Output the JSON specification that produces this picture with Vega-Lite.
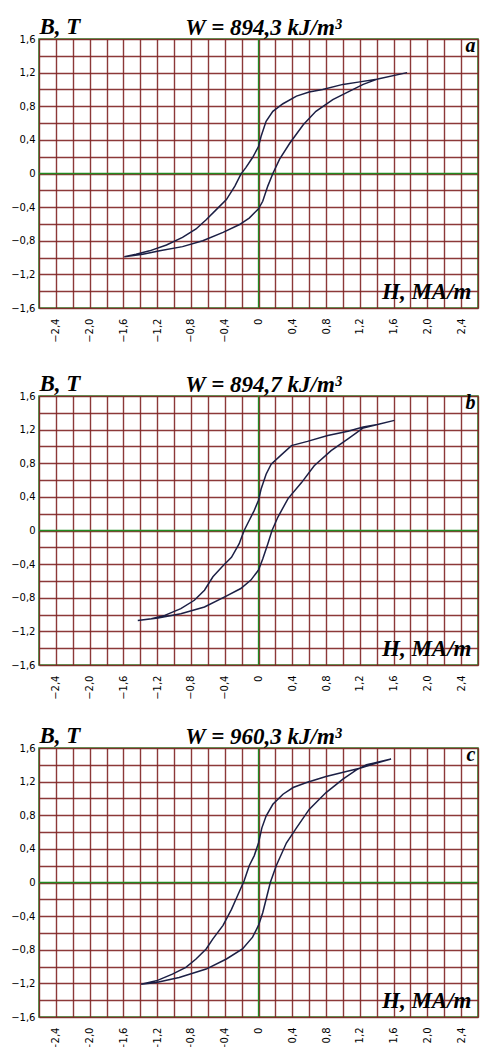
{
  "$schema": "https://vega.github.io/schema/vega-lite/v6.json",
  "padding": {"left": 9, "top": 14, "right": 0, "bottom": 0},
  "background": "white",
  "datasets": {
    "a": [
      {"i":0,"H":1.76,"B":1.20},{"i":1,"H":1.40,"B":1.12},{"i":2,"H":1.20,"B":1.09},{"i":3,"H":1.00,"B":1.06},
      {"i":4,"H":0.76,"B":1.00},{"i":5,"H":0.60,"B":0.97},{"i":6,"H":0.45,"B":0.92},{"i":7,"H":0.29,"B":0.83},
      {"i":8,"H":0.17,"B":0.74},{"i":9,"H":0.09,"B":0.62},{"i":10,"H":0.03,"B":0.44},{"i":11,"H":0.00,"B":0.32},
      {"i":12,"H":-0.07,"B":0.19},{"i":13,"H":-0.15,"B":0.07},{"i":14,"H":-0.21,"B":-0.01},{"i":15,"H":-0.28,"B":-0.15},
      {"i":16,"H":-0.38,"B":-0.31},{"i":17,"H":-0.50,"B":-0.43},{"i":18,"H":-0.62,"B":-0.55},{"i":19,"H":-0.74,"B":-0.66},
      {"i":20,"H":-0.90,"B":-0.76},{"i":21,"H":-1.09,"B":-0.85},{"i":22,"H":-1.29,"B":-0.92},{"i":23,"H":-1.45,"B":-0.96},
      {"i":24,"H":-1.59,"B":-0.99},{"i":25,"H":-1.37,"B":-0.96},{"i":26,"H":-1.17,"B":-0.92},{"i":27,"H":-0.90,"B":-0.87},
      {"i":28,"H":-0.66,"B":-0.80},{"i":29,"H":-0.42,"B":-0.70},{"i":30,"H":-0.23,"B":-0.61},{"i":31,"H":-0.11,"B":-0.53},
      {"i":32,"H":0.00,"B":-0.42},{"i":33,"H":0.05,"B":-0.33},{"i":34,"H":0.11,"B":-0.15},{"i":35,"H":0.17,"B":0.00},
      {"i":36,"H":0.25,"B":0.17},{"i":37,"H":0.37,"B":0.36},{"i":38,"H":0.53,"B":0.58},{"i":39,"H":0.68,"B":0.74},
      {"i":40,"H":0.88,"B":0.88},{"i":41,"H":1.08,"B":0.98},{"i":42,"H":1.24,"B":1.06},{"i":43,"H":1.40,"B":1.12},
      {"i":44,"H":1.76,"B":1.20}
    ],
    "b": [
      {"i":0,"H":1.61,"B":1.31},{"i":1,"H":1.41,"B":1.26},{"i":2,"H":1.24,"B":1.23},{"i":3,"H":1.06,"B":1.18},
      {"i":4,"H":0.82,"B":1.13},{"i":5,"H":0.58,"B":1.06},{"i":6,"H":0.39,"B":1.01},{"i":7,"H":0.27,"B":0.90},
      {"i":8,"H":0.15,"B":0.79},{"i":9,"H":0.09,"B":0.67},{"i":10,"H":0.03,"B":0.49},{"i":11,"H":0.00,"B":0.36},
      {"i":12,"H":-0.05,"B":0.24},{"i":13,"H":-0.13,"B":0.08},{"i":14,"H":-0.17,"B":0.00},{"i":15,"H":-0.23,"B":-0.16},
      {"i":16,"H":-0.32,"B":-0.32},{"i":17,"H":-0.42,"B":-0.42},{"i":18,"H":-0.54,"B":-0.55},{"i":19,"H":-0.64,"B":-0.71},
      {"i":20,"H":-0.76,"B":-0.83},{"i":21,"H":-0.92,"B":-0.93},{"i":22,"H":-1.11,"B":-1.01},{"i":23,"H":-1.27,"B":-1.05},
      {"i":24,"H":-1.43,"B":-1.07},{"i":25,"H":-1.19,"B":-1.04},{"i":26,"H":-0.92,"B":-0.99},{"i":27,"H":-0.64,"B":-0.91},
      {"i":28,"H":-0.40,"B":-0.79},{"i":29,"H":-0.21,"B":-0.69},{"i":30,"H":-0.09,"B":-0.59},{"i":31,"H":0.00,"B":-0.47},
      {"i":32,"H":0.05,"B":-0.34},{"i":33,"H":0.11,"B":-0.16},{"i":34,"H":0.16,"B":0.00},{"i":35,"H":0.23,"B":0.16},
      {"i":36,"H":0.35,"B":0.38},{"i":37,"H":0.51,"B":0.57},{"i":38,"H":0.66,"B":0.77},{"i":39,"H":0.86,"B":0.95},
      {"i":40,"H":1.06,"B":1.09},{"i":41,"H":1.24,"B":1.22},{"i":42,"H":1.41,"B":1.26},{"i":43,"H":1.61,"B":1.31}
    ],
    "c": [
      {"i":0,"H":1.57,"B":1.47},{"i":1,"H":1.40,"B":1.42},{"i":2,"H":1.20,"B":1.36},{"i":3,"H":1.04,"B":1.32},
      {"i":4,"H":0.80,"B":1.26},{"i":5,"H":0.57,"B":1.19},{"i":6,"H":0.41,"B":1.13},{"i":7,"H":0.29,"B":1.05},
      {"i":8,"H":0.17,"B":0.93},{"i":9,"H":0.09,"B":0.79},{"i":10,"H":0.04,"B":0.65},{"i":11,"H":0.00,"B":0.47},
      {"i":12,"H":-0.05,"B":0.32},{"i":13,"H":-0.11,"B":0.20},{"i":14,"H":-0.17,"B":0.02},{"i":15,"H":-0.25,"B":-0.16},
      {"i":16,"H":-0.32,"B":-0.32},{"i":17,"H":-0.42,"B":-0.51},{"i":18,"H":-0.54,"B":-0.67},{"i":19,"H":-0.62,"B":-0.79},
      {"i":20,"H":-0.74,"B":-0.91},{"i":21,"H":-0.86,"B":-1.01},{"i":22,"H":-1.02,"B":-1.09},{"i":23,"H":-1.21,"B":-1.17},
      {"i":24,"H":-1.39,"B":-1.21},{"i":25,"H":-1.21,"B":-1.19},{"i":26,"H":-0.94,"B":-1.13},{"i":27,"H":-0.62,"B":-1.03},
      {"i":28,"H":-0.38,"B":-0.91},{"i":29,"H":-0.19,"B":-0.79},{"i":30,"H":-0.07,"B":-0.65},{"i":31,"H":0.00,"B":-0.51},
      {"i":32,"H":0.05,"B":-0.36},{"i":33,"H":0.10,"B":-0.16},{"i":34,"H":0.14,"B":0.00},{"i":35,"H":0.21,"B":0.20},
      {"i":36,"H":0.33,"B":0.47},{"i":37,"H":0.45,"B":0.65},{"i":38,"H":0.60,"B":0.87},{"i":39,"H":0.80,"B":1.07},
      {"i":40,"H":1.00,"B":1.23},{"i":41,"H":1.16,"B":1.34},{"i":42,"H":1.28,"B":1.40},{"i":43,"H":1.57,"B":1.47}
    ]
  },
  "config": {
    "view": {"stroke": "#2d8a2d", "strokeWidth": 1.6},
    "axis": {
      "grid": true, "gridColor": "#7f2323", "gridWidth": 1.4, "gridOpacity": 0.9,
      "domain": false, "ticks": false, "tickSize": 0, "tickCount": 100,
      "labelFont": "DejaVu Sans", "labelFontSize": 10, "labelColor": "#000",
      "labelFlush": false, "labelOverlap": false,
      "titleFont": "Liberation Serif", "titleFontSize": 23, "titleFontStyle": "italic",
      "titleFontWeight": "bold", "titleColor": "#000"
    },
    "axisX": {"labelAngle": 270, "labelPadding": 10, "titleX": 432, "titleY": -10, "titleAlign": "right", "titleBaseline": "alphabetic"},
    "axisY": {"labelPadding": 4, "titleAngle": 0, "titleX": 0, "titleY": -6, "titleAlign": "left", "titleBaseline": "alphabetic"},
    "title": {"font": "Liberation Serif", "fontSize": 23, "fontStyle": "italic", "fontWeight": "bold", "color": "#000", "anchor": "middle", "offset": 4, "dy": 29, "dx": 5}
  },
  "spacing": 88,
  "bounds": "flush",
  "vconcat": [
    {
      "width": 439, "height": 269,
      "title": {"text": "W = 894,3 kJ/m³"},
      "layer": [
        {"data": {"values": [{}]}, "mark": {"type": "rule", "color": "#228b22", "strokeWidth": 1.3},
         "encoding": {"x": {"datum": 0, "type": "quantitative", "scale": {"domain": [-2.6, 2.6], "nice": false, "zero": false}, "title": "H, MA/m",
           "axis": {"tickCount": 100, "values": [-2.6,-2.4,-2.2,-2,-1.8,-1.6,-1.4,-1.2,-1,-0.8,-0.6,-0.4,-0.2,0,0.2,0.4,0.6,0.8,1,1.2,1.4,1.6,1.8,2,2.2,2.4,2.6],
             "labelExpr": "abs(round(datum.value*10)) % 4 == 0 && abs(datum.value) < 2.5 ? (datum.value == 0 ? '0' : replace(format(datum.value, '.1f'), '.', ',')) : ''"}}}},
        {"data": {"values": [{}]}, "mark": {"type": "rule", "color": "#228b22", "strokeWidth": 1.3},
         "encoding": {"y": {"datum": 0, "type": "quantitative", "scale": {"domain": [-1.6, 1.6], "nice": false, "zero": false}, "title": "B, T",
           "axis": {"tickCount": 100, "values": [-1.6,-1.4,-1.2,-1,-0.8,-0.6,-0.4,-0.2,0,0.2,0.4,0.6,0.8,1,1.2,1.4,1.6],
             "labelExpr": "abs(round(datum.value*10)) % 4 == 0 ? (datum.value == 0 ? '0' : replace(format(datum.value, '.1f'), '.', ',')) : ''"}}}},
        {"data": {"name": "a"}, "mark": {"type": "line", "color": "#1b1f45", "strokeWidth": 1.5},
         "encoding": {"x": {"field": "H", "type": "quantitative", "title": "H, MA/m"}, "y": {"field": "B", "type": "quantitative", "title": "B, T"}, "order": {"field": "i"}}},
        {"data": {"values": [{}]}, "mark": {"type": "text", "text": "a", "align": "right", "baseline": "alphabetic", "font": "Liberation Serif", "fontSize": 20, "fontStyle": "italic", "fontWeight": "bold", "color": "#000"},
         "encoding": {"x": {"datum": 2.57}, "y": {"datum": 1.45}}}
      ]
    },
    {
      "spacing": 83,
      "bounds": "flush",
      "vconcat": [
        {
          "width": 439, "height": 269,
          "title": {"text": "W = 894,7 kJ/m³"},
          "layer": [
            {"data": {"values": [{}]}, "mark": {"type": "rule", "color": "#228b22", "strokeWidth": 1.3},
             "encoding": {"x": {"datum": 0, "type": "quantitative", "scale": {"domain": [-2.6, 2.6], "nice": false, "zero": false}, "title": "H, MA/m",
               "axis": {"tickCount": 100, "values": [-2.6,-2.4,-2.2,-2,-1.8,-1.6,-1.4,-1.2,-1,-0.8,-0.6,-0.4,-0.2,0,0.2,0.4,0.6,0.8,1,1.2,1.4,1.6,1.8,2,2.2,2.4,2.6],
                 "labelExpr": "abs(round(datum.value*10)) % 4 == 0 && abs(datum.value) < 2.5 ? (datum.value == 0 ? '0' : replace(format(datum.value, '.1f'), '.', ',')) : ''"}}}},
            {"data": {"values": [{}]}, "mark": {"type": "rule", "color": "#228b22", "strokeWidth": 1.3},
             "encoding": {"y": {"datum": 0, "type": "quantitative", "scale": {"domain": [-1.6, 1.6], "nice": false, "zero": false}, "title": "B, T",
               "axis": {"tickCount": 100, "values": [-1.6,-1.4,-1.2,-1,-0.8,-0.6,-0.4,-0.2,0,0.2,0.4,0.6,0.8,1,1.2,1.4,1.6],
                 "labelExpr": "abs(round(datum.value*10)) % 4 == 0 ? (datum.value == 0 ? '0' : replace(format(datum.value, '.1f'), '.', ',')) : ''"}}}},
            {"data": {"name": "b"}, "mark": {"type": "line", "color": "#1b1f45", "strokeWidth": 1.5},
             "encoding": {"x": {"field": "H", "type": "quantitative", "title": "H, MA/m"}, "y": {"field": "B", "type": "quantitative", "title": "B, T"}, "order": {"field": "i"}}},
            {"data": {"values": [{}]}, "mark": {"type": "text", "text": "b", "align": "right", "baseline": "alphabetic", "font": "Liberation Serif", "fontSize": 20, "fontStyle": "italic", "fontWeight": "bold", "color": "#000"},
             "encoding": {"x": {"datum": 2.57}, "y": {"datum": 1.45}}}
          ]
        },
        {
          "width": 439, "height": 269,
          "title": {"text": "W = 960,3 kJ/m³"},
          "layer": [
            {"data": {"values": [{}]}, "mark": {"type": "rule", "color": "#228b22", "strokeWidth": 1.3},
             "encoding": {"x": {"datum": 0, "type": "quantitative", "scale": {"domain": [-2.6, 2.6], "nice": false, "zero": false}, "title": "H, MA/m",
               "axis": {"tickCount": 100, "values": [-2.6,-2.4,-2.2,-2,-1.8,-1.6,-1.4,-1.2,-1,-0.8,-0.6,-0.4,-0.2,0,0.2,0.4,0.6,0.8,1,1.2,1.4,1.6,1.8,2,2.2,2.4,2.6],
                 "labelExpr": "abs(round(datum.value*10)) % 4 == 0 && abs(datum.value) < 2.5 ? (datum.value == 0 ? '0' : replace(format(datum.value, '.1f'), '.', ',')) : ''"}}}},
            {"data": {"values": [{}]}, "mark": {"type": "rule", "color": "#228b22", "strokeWidth": 1.3},
             "encoding": {"y": {"datum": 0, "type": "quantitative", "scale": {"domain": [-1.6, 1.6], "nice": false, "zero": false}, "title": "B, T",
               "axis": {"tickCount": 100, "values": [-1.6,-1.4,-1.2,-1,-0.8,-0.6,-0.4,-0.2,0,0.2,0.4,0.6,0.8,1,1.2,1.4,1.6],
                 "labelExpr": "abs(round(datum.value*10)) % 4 == 0 ? (datum.value == 0 ? '0' : replace(format(datum.value, '.1f'), '.', ',')) : ''"}}}},
            {"data": {"name": "c"}, "mark": {"type": "line", "color": "#1b1f45", "strokeWidth": 1.5},
             "encoding": {"x": {"field": "H", "type": "quantitative", "title": "H, MA/m"}, "y": {"field": "B", "type": "quantitative", "title": "B, T"}, "order": {"field": "i"}}},
            {"data": {"values": [{}]}, "mark": {"type": "text", "text": "c", "align": "right", "baseline": "alphabetic", "font": "Liberation Serif", "fontSize": 20, "fontStyle": "italic", "fontWeight": "bold", "color": "#000"},
             "encoding": {"x": {"datum": 2.57}, "y": {"datum": 1.45}}}
          ]
        }
      ]
    }
  ]
}
